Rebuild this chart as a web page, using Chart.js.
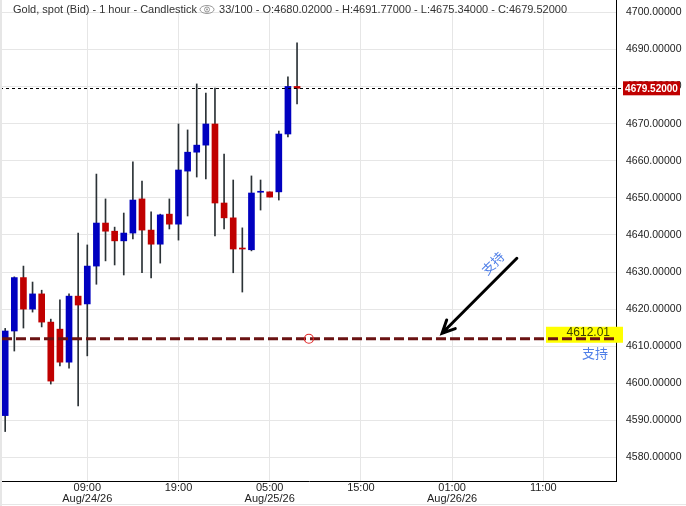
<!DOCTYPE html>
<html>
<head>
<meta charset="utf-8">
<title>Gold, spot (Bid) - 1 hour</title>
<script src="https://cdn.jsdelivr.net/npm/chart.js@4.4.1/dist/chart.umd.min.js"></script>
<style>
    html, body { margin: 0; padding: 0; background: #fff; }
    #wrap { width: 686px; height: 506px; position: relative; }
</style>
</head>
<body>
<div id="wrap"><canvas id="goldChart" width="686" height="506"></canvas></div>
<script>
// hourly candles, index 0 = Aug/24/26 00:00
var opens  = [4591.3, 4614.1, 4628.5, 4620.0, 4624.1, 4616.5, 4614.6, 4605.7, 4623.5, 4621.4, 4631.6,
              4643.2, 4641.0, 4638.4, 4640.5, 4649.7, 4641.3, 4637.5, 4645.6, 4642.9, 4657.2, 4662.3,
              4664.2, 4669.9, 4648.6, 4644.6, 4636.4, 4636.0, 4651.5, 4651.6, 4651.6, 4667.2, 4680.02];
var highs  = [4614.8, 4628.7, 4631.6, 4627.3, 4625.1, 4617.3, 4622.5, 4624.1, 4640.5, 4637.3, 4656.4,
              4649.7, 4642.1, 4645.9, 4659.7, 4654.5, 4646.2, 4645.6, 4649.7, 4669.9, 4668.3, 4680.7,
              4678.2, 4679.6, 4661.8, 4654.8, 4641.9, 4655.9, 4654.8, 4651.6, 4668.0, 4682.6, 4691.77];
var lows   = [4587.0, 4608.7, 4614.9, 4619.2, 4615.2, 4599.8, 4604.7, 4604.1, 4593.9, 4607.4, 4626.7,
              4633.0, 4631.9, 4629.2, 4638.9, 4629.8, 4628.4, 4632.4, 4641.6, 4638.6, 4645.1, 4655.6,
              4655.1, 4639.7, 4641.6, 4629.8, 4624.6, 4635.7, 4646.7, 4650.2, 4649.4, 4666.4, 4675.34];
var closes = [4614.1, 4628.5, 4620.0, 4624.1, 4616.5, 4600.6, 4605.7, 4623.5, 4621.1, 4631.6, 4643.2,
              4641.0, 4638.4, 4640.5, 4649.4, 4641.3, 4637.5, 4645.4, 4642.9, 4657.5, 4662.3, 4664.2,
              4669.9, 4648.6, 4644.6, 4636.2, 4636.2, 4651.3, 4651.7, 4650.2, 4667.2, 4680.02, 4679.52];

var xTickHours = [9, 19, 29, 39, 49, 59];
var xTickTimes = ['09:00', '19:00', '05:00', '15:00', '01:00', '11:00'];
var xTickDates = ['Aug/24/26', '', 'Aug/25/26', '', 'Aug/26/26', ''];
var yTicks = [4580, 4590, 4600, 4610, 4620, 4630, 4640, 4650, 4660, 4670, 4680, 4690, 4700];

var supportLevel = 4612.01;
var supportMarkX = 33.3;
var arrowFrom = [56.1, 4633.7];
var arrowTo = [47.9, 4613.5];

var xMin = -0.35, xMax = 66.97;
var yMin = 4573.67, yMax = 4703.32;

var UP = '#0000c0', DOWN = '#c00000';

var bodyData = [], wickData = [], bodyColors = [];
for (var i = 0; i < closes.length; i++) {
    bodyData.push({x: i, y: [opens[i], closes[i]]});
    wickData.push({x: i, y: [lows[i], highs[i]]});
    bodyColors.push(closes[i] >= opens[i] ? UP : DOWN);
}

function noPad(scale) {
    scale.paddingTop = 0;
    scale.paddingBottom = 0;
    scale.paddingLeft = 0;
    scale.paddingRight = 0;
}

var overlay = {
    id: 'overlay',
    afterDatasetsDraw: function (chart) {
        var ctx = chart.ctx, xs = chart.scales.x, ys = chart.scales.y, area = chart.chartArea;
        ctx.save();

        // last price dotted line
        var last = closes[closes.length - 1];
        var py = Math.round(ys.getPixelForValue(last)) + 0.5;
        ctx.strokeStyle = '#000';
        ctx.lineWidth = 1;
        ctx.setLineDash([3, 3]);
        ctx.beginPath();
        ctx.moveTo(0, py);
        ctx.lineTo(area.right + 6, py);
        ctx.stroke();
        ctx.setLineDash([]);

        // yellow highlight behind the support value
        var sy = ys.getPixelForValue(supportLevel);
        ctx.fillStyle = '#ffff00';
        ctx.fillRect(area.right - 70, sy - 12, 77, 16);

        // support line
        ctx.strokeStyle = '#6a1212';
        ctx.lineWidth = 3;
        ctx.setLineDash([10, 4]);
        ctx.beginPath();
        ctx.moveTo(area.left, sy);
        ctx.lineTo(area.right, sy);
        ctx.stroke();
        ctx.setLineDash([]);

        ctx.font = '12px "Liberation Sans", Arial, sans-serif';
        ctx.fillStyle = '#3c4200';
        ctx.textAlign = 'right';
        ctx.textBaseline = 'middle';
        ctx.fillText(supportLevel.toFixed(2), area.right - 6, sy - 6);

        ctx.font = '13px "Noto Sans CJK SC", sans-serif';
        ctx.fillStyle = '#4f7fe8';
        ctx.textAlign = 'center';
        ctx.fillText('支持', area.right - 21, sy + 14);

        // small circle on the line
        ctx.strokeStyle = '#e02828';
        ctx.lineWidth = 1.2;
        ctx.beginPath();
        ctx.arc(xs.getPixelForValue(supportMarkX), sy, 4.5, 0, Math.PI * 2);
        ctx.stroke();

        // arrow
        var ax0 = xs.getPixelForValue(arrowFrom[0]), ay0 = ys.getPixelForValue(arrowFrom[1]);
        var ax1 = xs.getPixelForValue(arrowTo[0]), ay1 = ys.getPixelForValue(arrowTo[1]);
        var ang = Math.atan2(ay1 - ay0, ax1 - ax0);
        ctx.strokeStyle = '#000';
        ctx.lineWidth = 3;
        ctx.lineCap = 'round';
        ctx.beginPath();
        ctx.moveTo(ax0, ay0);
        ctx.lineTo(ax1, ay1);
        ctx.moveTo(ax1 - 14 * Math.cos(ang - 0.45), ay1 - 14 * Math.sin(ang - 0.45));
        ctx.lineTo(ax1, ay1);
        ctx.lineTo(ax1 - 14 * Math.cos(ang + 0.45), ay1 - 14 * Math.sin(ang + 0.45));
        ctx.stroke();

        ctx.save();
        ctx.translate(ax0 - 24, ay0 + 5);
        ctx.rotate(-Math.PI / 4);
        ctx.font = '13px "Noto Sans CJK SC", sans-serif';
        ctx.fillStyle = '#4f7fe8';
        ctx.textAlign = 'center';
        ctx.textBaseline = 'middle';
        ctx.fillText('支持', 0, 0);
        ctx.restore();

        ctx.restore();
    },
    afterDraw: function (chart) {
        var ctx = chart.ctx, ys = chart.scales.y, area = chart.chartArea;
        ctx.save();

        // last price tag on the axis
        var last = closes[closes.length - 1];
        var py = ys.getPixelForValue(last);
        ctx.fillStyle = '#c00000';
        ctx.fillRect(area.right + 7, py - 7, 57, 14);
        ctx.font = 'bold 10px "Liberation Sans", Arial, sans-serif';
        ctx.fillStyle = '#fff';
        ctx.textAlign = 'center';
        ctx.textBaseline = 'middle';
        ctx.fillText(last.toFixed(5), area.right + 35.5, py + 0.5);

        // header
        var n = closes.length - 1;
        var t1 = 'Gold, spot (Bid) - 1 hour - Candlestick';
        var t2 = closes.length + '/100 - O:' + opens[n].toFixed(5) + ' - H:' + highs[n].toFixed(5) +
                 ' - L:' + lows[n].toFixed(5) + ' - C:' + closes[n].toFixed(5);
        ctx.font = '11px "Liberation Sans", Arial, sans-serif';
        ctx.textAlign = 'left';
        var w1 = ctx.measureText(t1).width, w2 = ctx.measureText(t2).width;
        var hx = 13;
        ctx.fillStyle = '#fff';
        ctx.fillRect(area.left, 0, hx + w1 + 24 + w2 + 2 - area.left, 11);
        ctx.fillStyle = '#333';
        ctx.fillText(t1, hx, 9.5);
        var ex = hx + w1 + 10;
        ctx.strokeStyle = '#999';
        ctx.lineWidth = 1;
        ctx.beginPath();
        ctx.ellipse(ex, 9.5, 7, 4, 0, 0, Math.PI * 2);
        ctx.stroke();
        ctx.beginPath();
        ctx.arc(ex, 9.5, 2.5, 0, Math.PI * 2);
        ctx.stroke();
        ctx.fillStyle = '#999';
        ctx.beginPath();
        ctx.arc(ex, 9.5, 1, 0, Math.PI * 2);
        ctx.fill();
        ctx.fillStyle = '#333';
        ctx.fillText(t2, hx + w1 + 22, 9.5);

        // window frame
        ctx.fillStyle = '#e6e6e6';
        ctx.fillRect(0, 0, 2, 506);
        ctx.fillRect(0, 504, 686, 1);
        ctx.restore();
    }
};

var canvas = document.getElementById('goldChart');
var chart = new Chart(canvas.getContext('2d'), {
    type: 'bar',
    data: {
        datasets: [
            {
                label: 'body',
                data: bodyData,
                backgroundColor: bodyColors,
                barThickness: 6,
                minBarLength: 1,
                grouped: false,
                order: 0
            },
            {
                label: 'wick',
                data: wickData,
                backgroundColor: '#2b3236',
                barThickness: 1,
                grouped: false,
                order: 1
            }
        ]
    },
    options: {
        responsive: false,
        animation: false,
        layout: { padding: { left: 2, top: 0, right: 0, bottom: 0 } },
        plugins: { legend: { display: false }, tooltip: { enabled: false } },
        scales: {
            x: {
                type: 'linear',
                min: xMin,
                max: xMax,
                offset: false,
                grid: { offset: false, color: '#e6e6e6', drawTicks: false },
                border: { color: '#000', width: 1 },
                ticks: {
                    padding: 1,
                    color: '#222',
                    maxRotation: 0,
                    font: { family: "'Liberation Sans', Arial, sans-serif", size: 11, lineHeight: 1.04 },
                    callback: function (value, index) {
                        return xTickDates[index] ? [xTickTimes[index], xTickDates[index]] : xTickTimes[index];
                    }
                },
                afterBuildTicks: function (scale) {
                    scale.ticks = xTickHours.map(function (v) { return {value: v}; });
                },
                afterFit: function (scale) { scale.height = 25; noPad(scale); }
            },
            y: {
                position: 'right',
                min: yMin,
                max: yMax,
                grid: { color: '#e6e6e6', drawTicks: false },
                border: { color: '#000', width: 1 },
                ticks: {
                    padding: 10,
                    color: '#222',
                    font: { family: "'Liberation Sans', Arial, sans-serif", size: 10.5 },
                    callback: function (value) { return value.toFixed(5); }
                },
                afterBuildTicks: function (scale) {
                    scale.ticks = yTicks.map(function (v) { return {value: v}; });
                },
                afterFit: function (scale) { scale.width = 70; noPad(scale); }
            }
        }
    },
    plugins: [overlay]
});
</script>
</body>
</html>
